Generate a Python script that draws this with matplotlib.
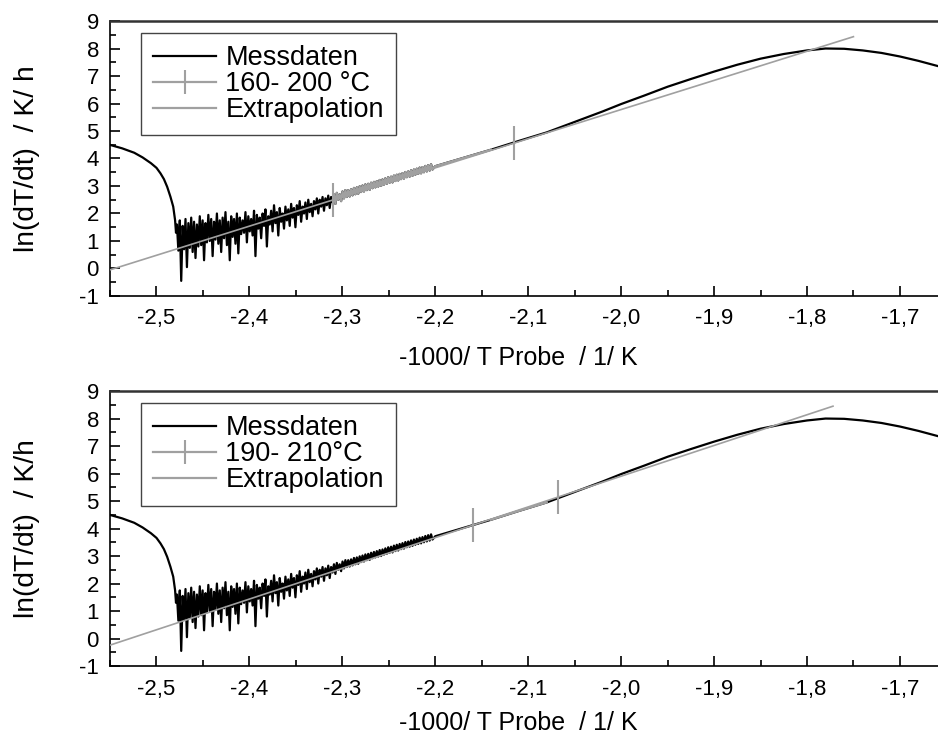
import numpy as np
import matplotlib.pyplot as plt
from matplotlib.lines import Line2D
from matplotlib.ticker import MultipleLocator, FuncFormatter

plt.rcParams['font.family'] = ['Liberation Sans', 'DejaVu Sans']
plt.rcParams['axes.unicode_minus'] = False
plt.rcParams['path.simplify'] = False  # keep every noise spike

# Messdaten, steep part before the noisy region
head_x = [-2.5495, -2.537, -2.524, -2.515, -2.506, -2.500, -2.4957, -2.492,
          -2.4885, -2.485, -2.482, -2.480, -2.479]
head_y = [4.49, 4.37, 4.21, 4.04, 3.83, 3.66, 3.46, 3.25,
          2.97, 2.61, 2.25, 1.76, 1.30]

# noisy region -2.478 ... -2.203 (alternating upper / lower values)
noise_hi = [1.60, 1.75, 1.55, 1.80, 1.65, 1.85, 1.70, 1.60, 1.90, 1.75,
            1.65, 1.95, 1.80, 1.70, 2.00, 1.75, 1.85, 2.05, 1.70, 1.90,
            1.80, 2.00, 1.85, 1.75, 2.05, 1.90, 1.80, 2.10, 1.95, 1.85,
            2.00, 2.15, 1.90, 2.10, 2.30, 2.05, 2.20, 2.00, 2.25, 2.15,
            2.35, 2.20, 2.30, 2.45, 2.25, 2.40, 2.50, 2.35, 2.45, 2.55,
            2.50, 2.60, 2.55, 2.65, 2.60, 2.70, 2.75, 2.70, 2.80, 2.85,
            2.85, 2.88, 2.93, 2.95, 2.99, 3.02, 3.06, 3.08, 3.12, 3.15,
            3.18, 3.22, 3.24, 3.28, 3.32, 3.34, 3.38, 3.41, 3.44, 3.47,
            3.51, 3.53, 3.57, 3.60, 3.63, 3.67, 3.69, 3.73, 3.76, 3.79]
noise_lo = [0.65, -0.45, 0.70, 0.05, 0.75, 0.60, 0.38, 0.80, 0.85, 0.30,
            0.95, 1.00, 0.45, 1.05, 0.90, 0.60, 1.10, 0.85, 0.30, 1.15,
            0.90, 0.55, 1.25, 1.30, 0.95, 1.35, 1.20, 0.45, 1.45, 1.10,
            1.55, 0.80, 1.60, 1.35, 1.65, 1.20, 1.70, 1.45, 1.75, 1.55,
            1.85, 1.50, 1.95, 1.70, 2.00, 1.80, 2.05, 1.90, 2.15, 2.00,
            2.25, 2.10, 2.30, 2.20, 2.40, 2.35, 2.50, 2.45, 2.55, 2.60,
            2.62, 2.66, 2.70, 2.72, 2.78, 2.80, 2.85, 2.86, 2.92, 2.95,
            2.98, 3.00, 3.05, 3.08, 3.12, 3.13, 3.18, 3.20, 3.25, 3.27,
            3.32, 3.34, 3.37, 3.41, 3.44, 3.46, 3.50, 3.53, 3.56, 3.60]

# smooth part up to the right edge
tail_x = [-2.200, -2.170, -2.140, -2.110, -2.080, -2.050, -2.020, -2.000,
          -1.975, -1.950, -1.925, -1.900, -1.875, -1.850, -1.825, -1.800,
          -1.780, -1.760, -1.740, -1.720, -1.700, -1.680, -1.659]
tail_y = [3.72, 4.02, 4.32, 4.64, 4.95, 5.33, 5.71, 5.98,
          6.29, 6.61, 6.89, 7.16, 7.41, 7.63, 7.80, 7.93,
          8.00, 7.99, 7.93, 7.84, 7.71, 7.55, 7.36]

# fit ranges and extrapolation lines of both panels
fit_labels = ['160- 200 °C', '190- 210°C']
fit_ranges = [(-2.310, -2.115), (-2.159, -2.068)]
extra_x = [(-2.55, -1.750), (-2.55, -1.772)]
extra_y = [(-0.05, 8.43), (-0.24, 8.45)]
ylabels = ['ln(dT/dt)  / K/ h', 'ln(dT/dt)  / K/h']

noise_x = np.linspace(-2.478, -2.203, 2 * len(noise_hi))
noise_y = np.empty(2 * len(noise_hi))
noise_y[0::2] = noise_hi
noise_y[1::2] = noise_lo

meas_x = np.concatenate([head_x, noise_x, tail_x])
meas_y = np.concatenate([head_y, noise_y, tail_y])

gray = '#a0a0a0'

fig = plt.figure(figsize=(9.38, 7.45), dpi=100)
axes = [fig.add_axes([0.1173, 0.6027, 0.8827, 0.3691]),
        fig.add_axes([0.1173, 0.1060, 0.8827, 0.3691])]

for i, ax in enumerate(axes):
    ax.plot(meas_x, meas_y, color='black', lw=1.6, zorder=2)

    lo, hi = fit_ranges[i]
    m = (meas_x >= lo) & (meas_x <= hi)
    ax.plot(meas_x[m], meas_y[m], color=gray, lw=1.6, zorder=3)

    ex, ey = extra_x[i], extra_y[i]
    ax.plot(ex, ey, color=gray, lw=1.2, zorder=4)
    slope = (ey[1] - ey[0]) / (ex[1] - ex[0])
    mk_y = [ey[0] + slope * (v - ex[0]) for v in (lo, hi)]
    ax.plot([lo, hi], mk_y, ls='none', marker='|', ms=25, mew=1.5,
            color=gray, zorder=5)

    ax.set_xlim(-2.55, -1.659)
    ax.set_ylim(-1, 9)
    ax.xaxis.set_major_locator(MultipleLocator(0.1))
    ax.xaxis.set_minor_locator(MultipleLocator(0.05))
    ax.yaxis.set_major_locator(MultipleLocator(1))
    ax.yaxis.set_minor_locator(MultipleLocator(0.5))
    ax.xaxis.set_major_formatter(FuncFormatter(lambda v, p: f'{v:.1f}'.replace('.', ',')))
    ax.yaxis.set_major_formatter(FuncFormatter(lambda v, p: f'{v:.0f}'))
    ax.tick_params(which='both', direction='in', width=1.2, top=False, right=False)
    ax.tick_params(which='major', length=7, labelsize=16)
    ax.tick_params(which='minor', length=4)
    ax.tick_params(axis='x', pad=9)
    ax.tick_params(axis='y', pad=8)
    ax.spines['right'].set_visible(False)
    ax.spines['top'].set_linewidth(1.8)
    ax.spines['top'].set_color('#333333')
    ax.spines['left'].set_linewidth(1.2)
    ax.spines['bottom'].set_linewidth(1.2)

    ax.set_xlabel('-1000/ T Probe  / 1/ K', fontsize=18)
    ax.xaxis.set_label_coords(0.493, -0.182 + 0.02 * i)
    ax.set_ylabel(ylabels[i], fontsize=20.3)
    ax.yaxis.set_label_coords(-0.085, 0.5)

    handles = [Line2D([], [], color='black', lw=1.6),
               Line2D([], [], color=gray, lw=1.6, marker='|', ms=17, mew=1.5),
               Line2D([], [], color=gray, lw=1.6)]
    leg = ax.legend(handles, ['Messdaten', fit_labels[i], 'Extrapolation'],
                    loc='upper left', bbox_to_anchor=(0.037, 0.956),
                    borderaxespad=0, fontsize=19.5, fancybox=False,
                    handlelength=2.35, handletextpad=0.33, labelspacing=0.0,
                    borderpad=0.45, framealpha=1)
    leg.get_frame().set_edgecolor('#444444')
    leg.get_frame().set_linewidth(1.0)

fig.savefig('out.png', dpi=100)
